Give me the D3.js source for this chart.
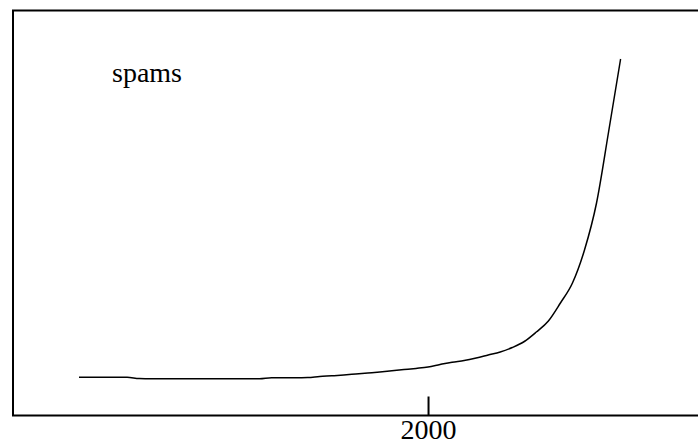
<!DOCTYPE html>
<html>
<head>
<meta charset="utf-8">
<script src="https://cdn.jsdelivr.net/npm/d3@7"></script>
<style>
  body { margin: 0; background: #fff; }
  svg { display: block; }
  text { font-family: "Liberation Serif", "Times New Roman", serif; }
</style>
</head>
<body>
<svg id="chart" width="698" height="441"></svg>
<script>
// years and spam volume (arbitrary units)
var years = d3.range(1971, 2017);
var spams = [2.7, 2.7, 2.7, 2.7, 2.7, 1.5, 1.3, 1.3, 1.3, 1.3,
             1.3, 1.3, 1.3, 1.3, 1.3, 1.3, 2.3, 2.3, 2.3, 2.5,
             3.5, 4.2, 5, 6, 7, 8, 9.2, 10.4, 11.6, 13,
             15.5, 17.8, 19.5, 22, 25, 28, 32.5, 38.5, 48, 59,
             77, 97, 130, 177, 248, 321];
var tickYears = [2000];
var label = "spams";

var svg = d3.select("#chart");

var box = {left: 13, top: 10.5, right: 700, bottom: 415.5};

var x = d3.scaleLinear().domain([1971, 2016]).range([79, 620.6]);
var y = d3.scaleLinear().domain([0, 350]).range([380, 30]);

// frame
svg.append("rect")
    .attr("x", box.left)
    .attr("y", box.top)
    .attr("width", box.right - box.left)
    .attr("height", box.bottom - box.top)
    .style("fill", "none")
    .style("stroke", "#000")
    .style("stroke-width", 2);

// x axis, tick pointing inward
var axis = svg.append("g")
    .attr("transform", "translate(0," + box.bottom + ")")
    .call(d3.axisBottom(x)
        .tickValues(tickYears)
        .tickFormat(d3.format("d"))
        .tickSizeInner(-19)
        .tickSizeOuter(0)
        .tickPadding(4));

axis.select(".domain").remove();
axis.selectAll(".tick line")
    .style("stroke", "#000")
    .style("stroke-width", 2);
axis.selectAll(".tick text")
    .style("font-family", "'Liberation Serif', 'Times New Roman', serif")
    .style("font-size", "28px")
    .style("fill", "#000");

var line = d3.line()
    .x((d, i) => x(years[i]))
    .y(d => y(d))
    .curve(d3.curveMonotoneX);

svg.append("path")
    .datum(spams)
    .attr("d", line)
    .style("fill", "none")
    .style("stroke", "#000")
    .style("stroke-width", 1.5);

svg.append("text")
    .attr("x", 112)
    .attr("y", 82)
    .style("font-size", "28px")
    .style("fill", "#000")
    .text(label);
</script>
</body>
</html>
